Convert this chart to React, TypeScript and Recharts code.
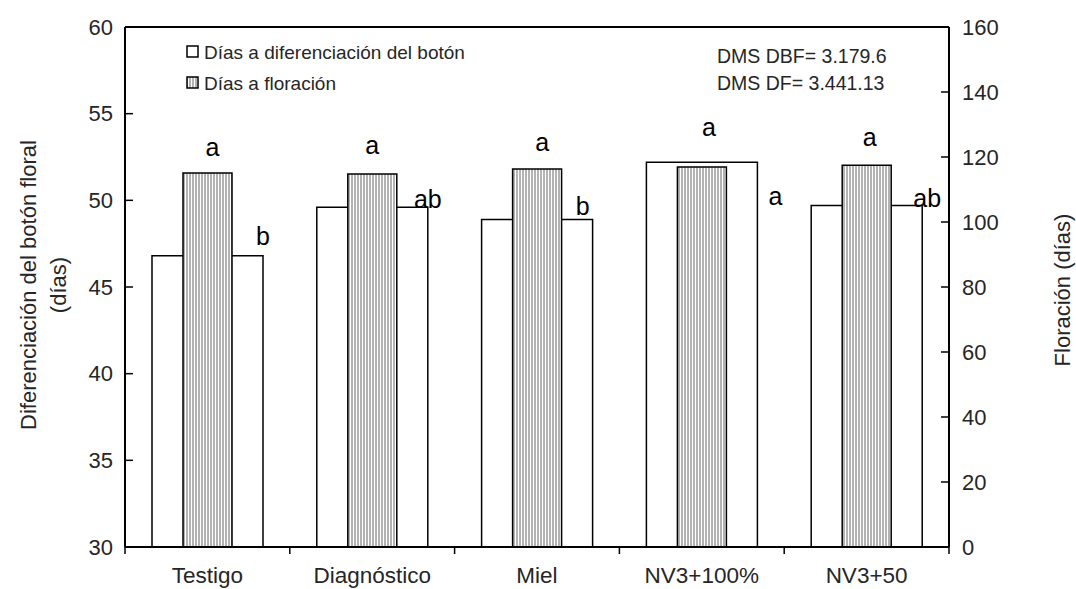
import { ComposedChart, Bar, XAxis, YAxis, ReferenceLine } from 'recharts'

const CATEGORIES = ['Testigo', 'Diagnóstico', 'Miel', 'NV3+100%', 'NV3+50']
const BOTON = [46.8, 49.6, 48.9, 52.2, 49.7]
const FLORACION = [115.1, 114.8, 116.3, 116.9, 117.5]
const LETTERS_DF = ['a', 'a', 'a', 'a', 'a']
const LETTERS_DBF = ['b', 'ab', 'b', 'a', 'ab']
const LEFT_TICKS = [30, 35, 40, 45, 50, 55, 60]
const RIGHT_TICKS = [0, 20, 40, 60, 80, 100, 120, 140, 160]

// nudges for the significance letters (px)
const DF_NUDGE = [[5, -26], [0, -29], [5, -27], [7, -40], [3, -28]]
const DBF_NUDGE = [[0, -20], [0, -8], [-10, -13], [18, 34], [5, -8]]

const data = CATEGORIES.map((name, i) => ({
  name,
  boton: BOTON[i],
  floracion: FLORACION[i],
}))

const W = 1076
const H = 589
const PLOT_L = 125
const PLOT_R = 949
const BAND = (PLOT_R - PLOT_L) / CATEGORIES.length
const FONT = '"Liberation Sans", Arial, sans-serif'
const TXT = '#262626'
const TICK_FS = 22

function CategoryTick(props: any) {
  const { x, y, payload, index } = props
  const left = x - BAND / 2
  return (
    <g>
      <line x1={left} x2={left} y1={y} y2={y + 7} stroke="#000" strokeWidth={1.5} />
      {index === CATEGORIES.length - 1 && (
        <line x1={x + BAND / 2} x2={x + BAND / 2} y1={y} y2={y + 7} stroke="#000" strokeWidth={1.5} />
      )}
      <text x={x} y={y + 36} textAnchor="middle" fontSize={22.5} fill={TXT} fontFamily={FONT}>
        {payload.value}
      </text>
    </g>
  )
}

function DbfLabel(props: any) {
  const { x, y, width, index } = props
  const [dx, dy] = DBF_NUDGE[index]
  return (
    <text x={x + width + dx} y={y + dy} textAnchor="middle" dominantBaseline="central"
      fontSize={25} fill="#000" fontFamily={FONT}>
      {LETTERS_DBF[index]}
    </text>
  )
}

function DfLabel(props: any) {
  const { x, y, width, index } = props
  const [dx, dy] = DF_NUDGE[index]
  return (
    <text x={x + width / 2 + dx} y={y + dy} textAnchor="middle" dominantBaseline="central"
      fontSize={25} fill="#000" fontFamily={FONT}>
      {LETTERS_DF[index]}
    </text>
  )
}

export default function App() {
  return (
    <div style={{ position: 'absolute', left: 0, top: 0, width: W, height: H, background: '#fff' }}>
      <ComposedChart width={W} height={H} data={data}
        margin={{ top: 27, right: W - PLOT_R - 60, bottom: 2, left: PLOT_L - 60 }}>
        <defs>
          <pattern id="vstripe" width="3" height="6" patternUnits="userSpaceOnUse">
            <rect width="3" height="6" fill="#fff" />
            <line x1="1" x2="1" y1="0" y2="6" stroke="#666" strokeWidth="1" />
          </pattern>
        </defs>
        <XAxis xAxisId="a" dataKey="name" height={40} tickLine={false} tickSize={0} tickMargin={0}
          axisLine={{ stroke: '#000', strokeWidth: 2 }} tick={<CategoryTick />} interval={0} />
        <XAxis xAxisId="b" dataKey="name" hide />
        <YAxis yAxisId="l" width={60} domain={[30, 60]} ticks={LEFT_TICKS} tickSize={-8} tickMargin={20}
          axisLine={{ stroke: '#000', strokeWidth: 2 }} tickLine={{ stroke: '#000', strokeWidth: 1.5 }}
          tick={{ fontSize: TICK_FS, fill: TXT, fontFamily: FONT }} interval={0} />
        <YAxis yAxisId="r" orientation="right" width={60} domain={[0, 160]} ticks={RIGHT_TICKS}
          tickSize={-8} tickMargin={21} axisLine={{ stroke: '#000', strokeWidth: 2 }}
          tickLine={{ stroke: '#000', strokeWidth: 1.5 }}
          tick={{ fontSize: TICK_FS, fill: TXT, fontFamily: FONT, textAnchor: 'start' }} interval={0} />
        <ReferenceLine yAxisId="l" xAxisId="a" y={60} stroke="#000" strokeWidth={2} />
        <Bar xAxisId="a" yAxisId="l" dataKey="boton" barSize={111} fill="#fff" stroke="#000"
          strokeWidth={1.5} isAnimationActive={false} label={<DbfLabel />} />
        <Bar xAxisId="b" yAxisId="r" dataKey="floracion" barSize={49} fill="url(#vstripe)" stroke="#000"
          strokeWidth={1.5} isAnimationActive={false} label={<DfLabel />} />

        {/* axis titles */}
        <text transform="translate(28 285) rotate(-90)" textAnchor="middle" dominantBaseline="central"
          fontSize={22} fill={TXT} fontFamily={FONT}>Diferenciación del botón floral</text>
        <text transform="translate(58 285) rotate(-90)" textAnchor="middle" dominantBaseline="central"
          fontSize={22} fill={TXT} fontFamily={FONT}>(días)</text>
        <text transform="translate(1062 290) rotate(-90)" textAnchor="middle" dominantBaseline="central"
          fontSize={22} fill={TXT} fontFamily={FONT}>Floración (días)</text>

        {/* legend */}
        <rect x={187} y={46} width={11} height={11} fill="#fff" stroke="#000" strokeWidth={1.5} />
        <text x={204} y={52} dominantBaseline="central" fontSize={19} fill={TXT} fontFamily={FONT}>
          Días a diferenciación del botón
        </text>
        <rect x={187} y={77} width={11} height={11} fill="url(#vstripe)" stroke="#000" strokeWidth={1.5} />
        <text x={204} y={83} dominantBaseline="central" fontSize={19} fill={TXT} fontFamily={FONT}>
          Días a floración
        </text>

        <text x={717} y={56} dominantBaseline="central" fontSize={19.5} fill={TXT} fontFamily={FONT}>
          DMS DBF= 3.179.6
        </text>
        <text x={717} y={83} dominantBaseline="central" fontSize={19.5} fill={TXT} fontFamily={FONT}>
          DMS DF= 3.441.13
        </text>
      </ComposedChart>
    </div>
  )
}
